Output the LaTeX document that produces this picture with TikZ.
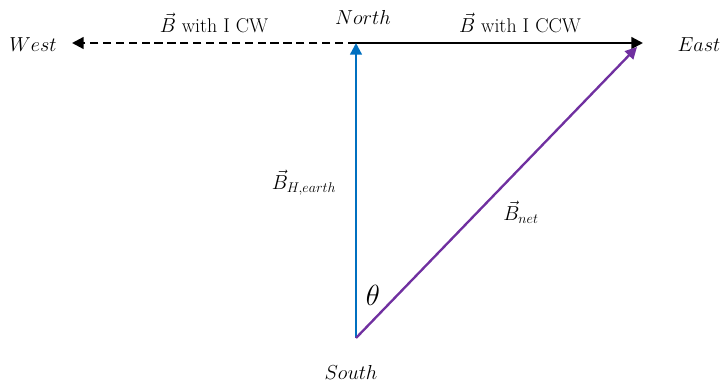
\documentclass[tikz,border=0pt]{standalone}
\usepackage{amsmath,amssymb}
\usepackage{tikz}
\usetikzlibrary{arrows.meta}

\definecolor{earthblue}{RGB}{0,112,192}
\definecolor{netpurple}{RGB}{112,48,160}

\begin{document}
\begin{tikzpicture}[x=0.03cm, y=-0.03cm, every node/.style={font=\fontsize{17}{20}\selectfont},
	vec/.style={line width=2pt, -{Triangle[length=10pt, width=10pt]}}]
	\useasboundingbox (0,0) rectangle (723,385);
	\coordinate (S) at (356,338);
	\coordinate (N) at (356,43);
	\coordinate (W) at (72,43);
	\coordinate (E) at (643,43);
	\coordinate (P) at (637,47);
	\draw[vec, dash pattern=on 7pt off 4pt] (N) -- (W);
	\draw[vec] (N) -- (E);
	\draw[vec, earthblue] (S) -- (N);
	\draw[vec, netpurple] (S) -- (P);
	\node (north) at (363,17) {$North$};
	\node (west) at (33,45) {$West$};
	\node (east) at (699,45) {$East$};
	\node (south) at (351,372) {$South$};
	\node (cw) at (214,23) {$\vec{B}$ with I CW};
	\node (ccw) at (520,23) {$\vec{B}$ with I CCW};
	\node (bh) at (304,183) {$\vec{B}_{H,earth}$};
	\node (bnet) at (521,212) {$\vec{B}_{net}$};
	\node[font=\fontsize{26}{30}\selectfont] (theta) at (373,295) {$\theta$};
\end{tikzpicture}
\end{document}
